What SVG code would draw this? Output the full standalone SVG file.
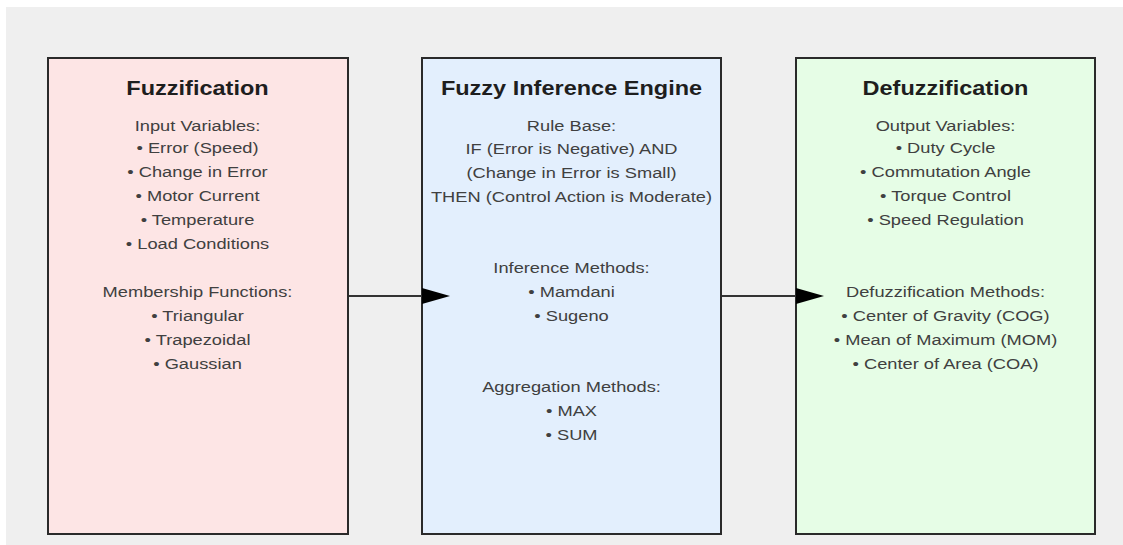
<svg xmlns="http://www.w3.org/2000/svg" width="1123" height="545" viewBox="0 0 1123 545">
<style>
.box{stroke:#2a2a2a;stroke-width:2}
.t{font-family:"Liberation Sans",Arial,sans-serif;font-size:21px;font-weight:bold;fill:#1e1e1e;text-anchor:middle}
.b{font-family:"Liberation Sans",Arial,sans-serif;font-size:14.5px;fill:#404040;text-anchor:middle}
.ln{stroke:#333;stroke-width:2;fill:none}
.hd{fill:#000}
</style>
<rect x="0" y="0" width="1123" height="545" fill="#ffffff"/>
<rect x="6" y="7" width="1117" height="538" fill="#efefef"/>
<g id="fuzzification">
<rect class="box" x="48" y="58" width="300" height="476" fill="#fde5e5"/>
<g transform="translate(197.5 0) scale(1.12 1)">
<text class="t" x="0" y="95">Fuzzification</text>
</g>
<g transform="translate(197.5 0) scale(1.26 1)">
<text class="b" x="0" y="131">Input Variables:</text>
<text class="b" x="0" y="153">• Error (Speed)</text>
<text class="b" x="0" y="177">• Change in Error</text>
<text class="b" x="0" y="201">• Motor Current</text>
<text class="b" x="0" y="225">• Temperature</text>
<text class="b" x="0" y="249">• Load Conditions</text>
<text class="b" x="0" y="297">Membership Functions:</text>
<text class="b" x="0" y="321">• Triangular</text>
<text class="b" x="0" y="345">• Trapezoidal</text>
<text class="b" x="0" y="369">• Gaussian</text>
</g>
</g>
<g id="inference">
<rect class="box" x="422" y="58" width="299" height="476" fill="#e3effd"/>
<g transform="translate(571.5 0) scale(1.12 1)">
<text class="t" x="0" y="95">Fuzzy Inference Engine</text>
</g>
<g transform="translate(571.5 0) scale(1.26 1)">
<text class="b" x="0" y="131">Rule Base:</text>
<text class="b" x="0" y="154">IF (Error is Negative) AND</text>
<text class="b" x="0" y="178">(Change in Error is Small)</text>
<text class="b" x="0" y="202">THEN (Control Action is Moderate)</text>
<text class="b" x="0" y="273">Inference Methods:</text>
<text class="b" x="0" y="297">• Mamdani</text>
<text class="b" x="0" y="321">• Sugeno</text>
<text class="b" x="0" y="392">Aggregation Methods:</text>
<text class="b" x="0" y="416">• MAX</text>
<text class="b" x="0" y="440">• SUM</text>
</g>
</g>
<g id="defuzzification">
<rect class="box" x="796" y="58" width="299" height="476" fill="#e6fde6"/>
<g transform="translate(945.5 0) scale(1.12 1)">
<text class="t" x="0" y="95">Defuzzification</text>
</g>
<g transform="translate(945.5 0) scale(1.26 1)">
<text class="b" x="0" y="131">Output Variables:</text>
<text class="b" x="0" y="153">• Duty Cycle</text>
<text class="b" x="0" y="177">• Commutation Angle</text>
<text class="b" x="0" y="201">• Torque Control</text>
<text class="b" x="0" y="225">• Speed Regulation</text>
<text class="b" x="0" y="297">Defuzzification Methods:</text>
<text class="b" x="0" y="321">• Center of Gravity (COG)</text>
<text class="b" x="0" y="345">• Mean of Maximum (MOM)</text>
<text class="b" x="0" y="369">• Center of Area (COA)</text>
</g>
</g>
<g id="connectors">
<line class="ln" x1="349" y1="296" x2="428" y2="296"/>
<polygon class="hd" points="422,288 450,296 422,304"/>
<line class="ln" x1="722" y1="296" x2="802" y2="296"/>
<polygon class="hd" points="796,288 824,296 796,304"/>
</g>
</svg>
